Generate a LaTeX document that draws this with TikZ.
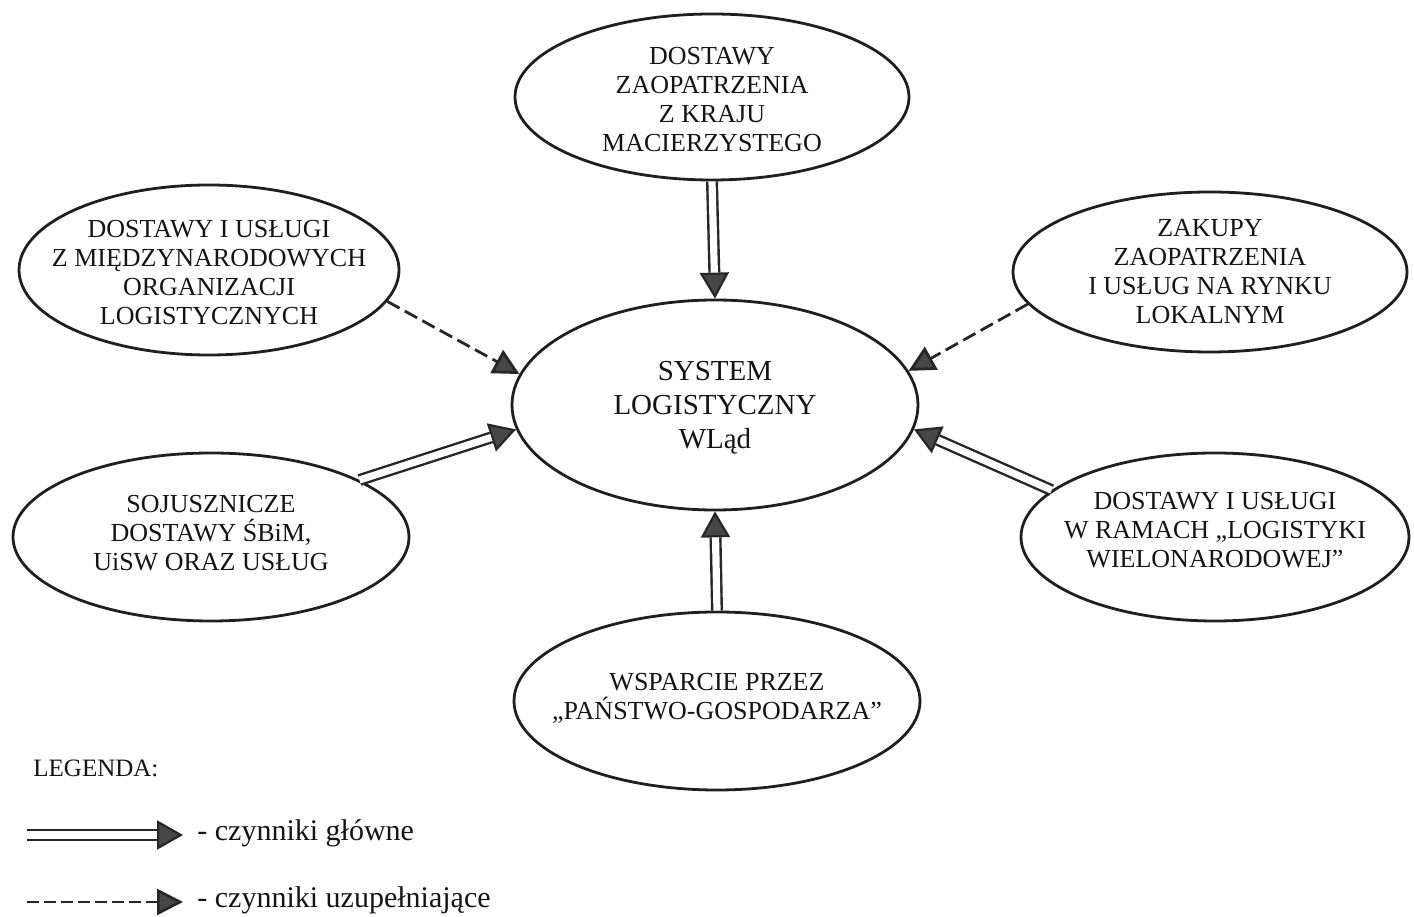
\documentclass[tikz,border=0pt]{standalone}
\usepackage{fontspec}
\setmainfont{Liberation Serif}
\usetikzlibrary{arrows.meta,shapes.geometric}
\begin{document}
\begin{tikzpicture}[x=0.5pt,y=0.5pt,
  ell/.style={ellipse, draw=black!88, line width=1.4pt, inner sep=0pt},
  txt/.style={align=center, inner sep=0pt, text=black!92, font=\fontsize{13}{14.5}\selectfont},
  bigtxt/.style={align=center, inner sep=0pt, text=black!92, font=\fontsize{14.5}{17}\selectfont},
  legtxt/.style={anchor=west, inner sep=0pt, text=black!92, font=\fontsize{15}{17}\selectfont},
  tipline/.style={line width=1.1pt, draw=black!85, -{Triangle[length=13pt,width=14.5pt,fill=black!72]}},
  dblline/.style={line width=1.2pt, draw=black!85, double=white, double distance=3.6pt, shorten >=13pt},
  dashline/.style={line width=1.4pt, draw=black!85, dash pattern=on 7pt off 3pt, -{Triangle[length=13pt,width=13pt,fill=black!72]}},
]
\useasboundingbox (0,0) rectangle (1414,916);
\fill[white] (0,0) rectangle (1414,916);

% ellipses
\node[ell, minimum width=197pt, minimum height=83pt] (top) at (712,819) {};
\node[txt] (topt) at (712,816) {DOSTAWY\\ZAOPATRZENIA\\Z KRAJU\\MACIERZYSTEGO};

\node[ell, minimum width=190pt, minimum height=85pt] (lt) at (209,646) {};
\node[txt] (ltt) at (209,643) {DOSTAWY I USŁUGI\\Z MIĘDZYNARODOWYCH\\ORGANIZACJI\\LOGISTYCZNYCH};

\node[ell, minimum width=197pt, minimum height=80pt] (rt) at (1210,644) {};
\node[txt] (rtt) at (1210,644) {ZAKUPY\\ZAOPATRZENIA\\I USŁUG NA RYNKU\\LOKALNYM};

\node[ell, minimum width=203pt, minimum height=105pt] (c) at (715,511) {};
\node[bigtxt] (ct) at (715,508) {SYSTEM\\LOGISTYCZNY\\WLąd};

\node[ell, minimum width=198pt, minimum height=84pt] (lb) at (211,379) {};
\node[txt] (lbt) at (211,383) {SOJUSZNICZE\\DOSTAWY ŚBiM,\\UiSW ORAZ USŁUG};

\node[ell, minimum width=194pt, minimum height=84pt] (rb) at (1215,379) {};
\node[txt] (rbt) at (1215,386) {DOSTAWY I USŁUGI\\W RAMACH „LOGISTYKI\\WIELONARODOWEJ”};

\node[ell, minimum width=203pt, minimum height=89pt] (bot) at (717,215) {};
\node[txt] (bott) at (717,218) {WSPARCIE PRZEZ\\„PAŃSTWO-GOSPODARZA”};

% main factors (double)
\draw[tipline] (top.south) -- (c.north);
\draw[dblline] (top.south) -- (c.north);
\draw[tipline] (bot.north) -- (c.south);
\draw[dblline] (bot.north) -- (c.south);
\draw[tipline] (lb.21.3) -- (c.187.9);
\draw[dblline] (lb.21.3) -- (c.187.9);
\draw[tipline] (rb.164.9) -- (c.-7.8);
\draw[dblline] (rb.164.9) -- (c.-7.8);

% supplementary factors (dashed)
\draw[dashline] (lt.-10.1) -- (c.171.3);
\draw[dashline] (rt.-170.1) -- (c.10.4);

% legend
\node[anchor=west, inner sep=0pt, text=black!92, font=\fontsize{12.5}{14}\selectfont] (leg) at (33,148) {LEGENDA:};
\coordinate (l1a) at (27,81);
\coordinate (l1b) at (183,81);
\node[legtxt] (l1t) at (197,83) {- czynniki główne};
\draw[tipline] (l1a) -- (l1b);
\draw[dblline] (l1a) -- (l1b);
\coordinate (l2a) at (27,14);
\coordinate (l2b) at (183,14);
\node[legtxt] (l2t) at (197,16) {- czynniki uzupełniające};
\draw[dashline, line width=1.3pt, dash pattern=on 6pt off 2.5pt] (l2a) -- (l2b);
\end{tikzpicture}
\end{document}
